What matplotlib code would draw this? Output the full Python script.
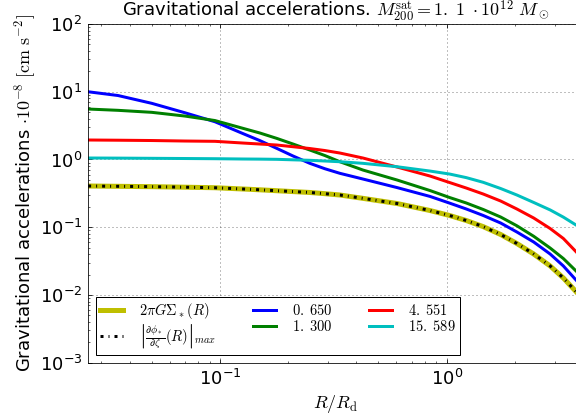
import matplotlib
matplotlib.use('Agg')
import matplotlib.pyplot as plt

# R / R_d
R = [0.0262, 0.0355, 0.050, 0.070, 0.095, 0.126, 0.15, 0.178, 0.21, 0.249,
     0.29, 0.338, 0.427, 0.604, 0.844, 1.03, 1.22, 1.45, 1.73, 2.04,
     2.42, 2.86, 3.27, 3.72]

# 2 pi G Sigma_*(R) and |dphi/dzeta|_max (the two coincide)
acc_sigma = [0.406, 0.402, 0.397, 0.390, 0.383, 0.367, 0.357, 0.346, 0.336, 0.326,
             0.313, 0.299, 0.267, 0.224, 0.1765, 0.149, 0.1257, 0.102, 0.0781, 0.0575,
             0.0402, 0.0268, 0.0178, 0.0112]
acc_dphi = [0.406, 0.402, 0.397, 0.390, 0.383, 0.367, 0.357, 0.346, 0.336, 0.326,
            0.313, 0.299, 0.267, 0.224, 0.1765, 0.149, 0.1257, 0.102, 0.0781, 0.0575,
            0.0402, 0.0268, 0.0178, 0.0112]

# satellite accelerations for each value of the parameter
acc_0650 = [10.0, 8.8, 6.75, 4.90, 3.61, 2.42, 1.90, 1.46, 1.126, 0.878,
            0.731, 0.625, 0.515, 0.385, 0.285, 0.227, 0.186, 0.149, 0.1154, 0.0850,
            0.0605, 0.0402, 0.0268, 0.0166]
acc_1300 = [5.56, 5.32, 4.97, 4.38, 3.76, 2.89, 2.46, 2.05, 1.692, 1.38,
            1.145, 0.927, 0.699, 0.498, 0.348, 0.2746, 0.228, 0.1827, 0.1415, 0.105,
            0.0735, 0.0493, 0.0345, 0.0226]
acc_4551 = [1.94, 1.926, 1.906, 1.874, 1.855, 1.751, 1.692, 1.636, 1.544, 1.452,
            1.357, 1.246, 1.052, 0.774, 0.570, 0.457, 0.379, 0.309, 0.2438, 0.1858,
            0.1368, 0.0957, 0.0682, 0.0435]
acc_15589 = [1.052, 1.048, 1.041, 1.034, 1.027, 1.017, 1.013, 1.006, 0.989, 0.973,
             0.950, 0.927, 0.878, 0.782, 0.675, 0.610, 0.540, 0.460, 0.3728, 0.299,
             0.232, 0.180, 0.141, 0.1078]

plt.rcParams['mathtext.fontset'] = 'cm'
plt.rcParams['lines.scale_dashes'] = False
plt.rcParams['lines.dotted_pattern'] = [1, 3]
plt.rcParams['lines.dashdot_pattern'] = [3, 5, 1, 5]
plt.rcParams['lines.dash_capstyle'] = 'butt'
plt.rcParams['xtick.direction'] = 'in'
plt.rcParams['ytick.direction'] = 'in'

fig = plt.figure(figsize=(8, 420 / 72), dpi=72)
ax = fig.add_axes([0.1533, 0.1364, 0.8592, 0.8064])

ax.plot(R, acc_sigma, color='y', lw=5, label=r'$2\pi G\Sigma_*(R)$')
ax.plot(R, acc_dphi, 'k-.', lw=3,
        label=r'$\left|\frac{\partial\phi_*}{\partial\zeta}(R)\right|_{max}$')
ax.plot(R, acc_0650, color='b', lw=3, label=r'$0.\;650$')
ax.plot(R, acc_1300, color='g', lw=3, label=r'$1.\;300$')
ax.plot(R, acc_4551, color='r', lw=3, label=r'$4.\;551$')
ax.plot(R, acc_15589, color='c', lw=3, label=r'$15.\;589$')

ax.set_xscale('log')
ax.set_yscale('log')
ax.set_xlim(0.02625, 4.0)
ax.set_ylim(1e-3, 1e2)
ax.grid(True, which='major', color='k', linestyle=':', linewidth=0.5)
ax.tick_params(which='both', top=True, right=True, labelsize=18)
ax.tick_params(which='major', length=4, pad=6)
ax.tick_params(which='minor', length=2)

ax.set_title(r'Gravitational accelerations. $M_{200}^{\rm sat} = 1.\;1\ \cdot 10^{12}\ M_\odot$',
             fontsize=18, pad=6)
ax.set_xlabel(r'$R/R_{\rm d}$', fontsize=18)
ax.set_ylabel(r'Gravitational accelerations $\cdot 10^{-8}\ [{\rm cm\ s^{-2}}]$',
              fontsize=18, labelpad=2)

leg = ax.legend(loc='lower left', ncol=3, fontsize=14.5, fancybox=False,
                framealpha=1, edgecolor='k', borderaxespad=0.5, borderpad=0.3,
                labelspacing=0.1, handlelength=1.6, handletextpad=1.1,
                columnspacing=2.5)
leg.get_frame().set_linewidth(1.0)

fig.savefig('out.png', dpi=72)
